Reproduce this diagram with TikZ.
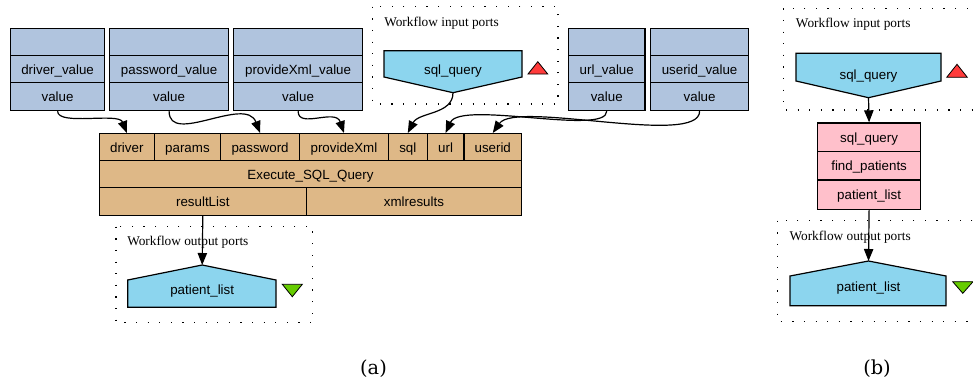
\documentclass[tikz,border=0pt]{standalone}
\usepackage{fontspec}
\usetikzlibrary{arrows.meta}
\newfontfamily\boxfont{Liberation Sans}
\newfontfamily\notefont{Liberation Serif}
\newfontfamily\tagfont{DejaVu Serif}
\definecolor{procblue}{HTML}{B0C4DE}
\definecolor{servtan}{HTML}{DEB887}
\definecolor{portblue}{HTML}{8CD5EE}
\definecolor{beanpink}{HTML}{FFC0CB}
\definecolor{inred}{HTML}{FF3B3B}
\definecolor{outgreen}{HTML}{66CC00}

% one rectangular record cell, given by its corners (pixel units, y downwards)
\newcommand\cellbox[7]{%
  \node[#6, anchor=north west,
        minimum width={(#4-(#2))*0.75pt},
        minimum height={(#5-(#3))*0.75pt}] (#1) at (#2,#3) {#7};}

\tikzset{
  cell/.style={draw, line width=0.9pt, inner sep=0pt,
               font=\boxfont\fontsize{10}{12}\selectfont,
               text height=8pt, text depth=0pt},
  constbox/.style={cell, fill=procblue},
  servbox/.style={cell, fill=servtan},
  beanbox/.style={cell, fill=beanpink},
  portshape/.style={draw, line width=0.9pt, fill=portblue},
  portlabel/.style={anchor=base, inner sep=0pt,
                    font=\boxfont\fontsize{10}{12}\selectfont},
  groupframe/.style={line width=0.9pt, dash pattern=on 0.9pt off 7.8pt},
  grouptitle/.style={anchor=base west, inner sep=0pt,
                     font=\notefont\fontsize{10}{12}\selectfont},
  edge/.style={line width=0.9pt, -{Triangle[length=9pt,width=7pt]}},
  subtag/.style={inner sep=0pt, font=\tagfont\fontsize{14.5}{16}\selectfont},
}

\begin{document}
\begin{tikzpicture}[x=0.75pt, y=-0.75pt]
\useasboundingbox (0,0) rectangle (973,383);
\clip (0,0) rectangle (973,383);
\fill[white] (0,0) rectangle (973,383);

% ---------------- (a) ----------------
% workflow input ports group
\draw[groupframe] (372.7,6.7) rectangle (558,104);
\node[grouptitle] (inTitleA) at (384,26.7) {Workflow input ports};
\draw[portshape] (384,50.7) -- (522,50.7) -- (522,77) -- (453,92.7) -- (384,77) -- cycle;
\coordinate (sqlTipA) at (453,92.7);
\node[portlabel] (sqlA) at (453,74) {sql\_query};
\draw[line width=0.6pt, fill=inred] (528,74) -- (547.7,74) -- (537.8,61.7) -- cycle;

% workflow output ports group
\draw[groupframe] (116,226.7) rectangle (312.7,322.7);
\node[grouptitle] (outTitleA) at (127,245.7) {Workflow output ports};
\draw[portshape] (127.7,307.3) -- (276,307.3) -- (276,280) -- (202.2,265) -- (127.7,280) -- cycle;
\coordinate (outTipA) at (202.2,265);
\node[portlabel] (patientA) at (202.2,294) {patient\_list};
\draw[line width=0.6pt, fill=outgreen] (282.3,284.3) -- (302.3,284.3) -- (292.3,296.7) -- cycle;

% constant value processors
\cellbox{drvA}{10}{28}{104}{55}{constbox}{}
\cellbox{drvB}{10}{55}{104}{82}{constbox}{driver\_value}
\cellbox{drvC}{10}{82}{104}{110}{constbox}{value}

\cellbox{pwdA}{109}{28}{228}{55}{constbox}{}
\cellbox{pwdB}{109}{55}{228}{82}{constbox}{password\_value}
\cellbox{pwdC}{109}{82}{228}{110}{constbox}{value}

\cellbox{pxA}{233}{28}{362}{55}{constbox}{}
\cellbox{pxB}{233}{55}{362}{82}{constbox}{provideXml\_value}
\cellbox{pxC}{233}{82}{362}{110}{constbox}{value}

\cellbox{urlA}{568}{28}{644.3}{55}{constbox}{}
\cellbox{urlB}{568}{55}{644.3}{82}{constbox}{url\_value}
\cellbox{urlC}{568}{82}{644.3}{110}{constbox}{value}

\cellbox{uidA}{650}{28}{748}{55}{constbox}{}
\cellbox{uidB}{650}{55}{748}{82}{constbox}{userid\_value}
\cellbox{uidC}{650}{82}{748}{110}{constbox}{value}

% SQL query service
\cellbox{pDriver}{98.7}{133}{153.7}{160}{servbox}{driver}
\cellbox{pParams}{153.7}{133}{220}{160}{servbox}{params}
\cellbox{pPassword}{220}{133}{299}{160}{servbox}{password}
\cellbox{pProvide}{299}{133}{387.7}{160}{servbox}{provideXml}
\cellbox{pSql}{387.7}{133}{426.7}{160}{servbox}{sql}
\cellbox{pUrl}{426.7}{133}{463.3}{160}{servbox}{url}
\cellbox{pUserid}{463.3}{133}{521}{160}{servbox}{userid}
\cellbox{execSql}{98.7}{160}{521}{187}{servbox}{Execute\_SQL\_Query}
\cellbox{oResult}{98.7}{187}{305.7}{215}{servbox}{resultList}
\cellbox{oXml}{305.7}{187}{521}{215}{servbox}{xmlresults}

% data links
\draw[edge] (drvC.south) .. controls +(0,15) and +(-8,-21) .. (pDriver.north);
\draw[edge] (pwdC.south) .. controls +(0,35) and +(-14.5,-38) .. (pPassword.north);
\draw[edge] (pxC.south) .. controls +(0,18) and +(-8.3,-25) .. (pProvide.north);
\draw[edge] (sqlTipA) .. controls +(0,22) and +(10.8,-21) .. (pSql.north);
\draw[edge] (urlC.south) .. controls +(0,25) and +(15,-33) .. (pUrl.north);
\draw[edge] (uidC.south) .. controls +(0,36) and +(23,-33) .. (pUserid.north);
\draw[edge] (oResult.south) -- (outTipA);

\node[subtag] (tagA) at (373.5,368.5) {(a)};

% ---------------- (b) ----------------
\draw[groupframe] (783.3,8.3) rectangle (1000,110);
\node[grouptitle] (inTitleB) at (795.7,27.7) {Workflow input ports};
\draw[portshape] (796,53.3) -- (941,53.3) -- (941,81) -- (868.5,97.7) -- (796,81) -- cycle;
\coordinate (sqlTipB) at (868.5,97.7);
\node[portlabel] (sqlB) at (868.5,79) {sql\_query};
\draw[line width=0.6pt, fill=inred] (946.7,77.3) -- (967.3,77.3) -- (957,64.3) -- cycle;

\cellbox{bIn}{817}{122.3}{920}{150.7}{beanbox}{sql\_query}
\cellbox{bName}{817}{150.7}{920}{179.3}{beanbox}{find\_patients}
\cellbox{bOut}{817}{179.3}{920}{208.7}{beanbox}{patient\_list}

\draw[groupframe] (777.3,220.7) rectangle (1000,321.7);
\node[grouptitle] (outTitleB) at (789.3,240.7) {Workflow output ports};
\draw[portshape] (790,305.7) -- (946,305.7) -- (946,276) -- (868.5,261) -- (790,276) -- cycle;
\coordinate (outTipB) at (868.5,261);
\node[portlabel] (patientB) at (868.5,291.7) {patient\_list};
\draw[line width=0.6pt, fill=outgreen] (952.7,281.7) -- (973,281.7) -- (962.8,293.3) -- cycle;

\draw[edge] (sqlTipB) -- (bIn.north);
\draw[edge] (bOut.south) -- (outTipB);

\node[subtag] (tagB) at (877,368.5) {(b)};
\end{tikzpicture}
\end{document}
